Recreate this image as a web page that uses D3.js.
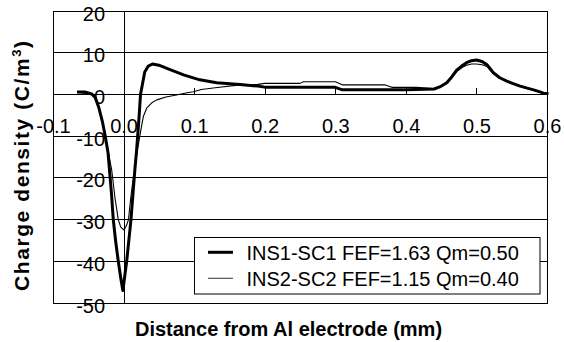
<!DOCTYPE html>
<html><head><meta charset="utf-8">
<script src="https://cdn.jsdelivr.net/npm/d3@7/dist/d3.min.js"></script>
<style>
html,body{margin:0;padding:0;background:#fff;}
svg{display:block;font-family:Arial,"Liberation Sans",sans-serif;}
</style></head>
<body>
<svg id="c" width="564" height="342"></svg>
<script>
// ---- data ----
const xTicks = [-0.1, 0.0, 0.1, 0.2, 0.3, 0.4, 0.5, 0.6];
const xTickLabels = ["-0.1", "0.0", "0.1", "0.2", "0.3", "0.4", "0.5", "0.6"];
const yTicks = [20, 10, 0, -10, -20, -30, -40, -50];
const yTickLabels = ["20", "10", "0", "-10", "-20", "-30", "-40", "-50"];
const seriesNames = ["INS1-SC1 FEF=1.63 Qm=0.50", "INS2-SC2 FEF=1.15 Qm=0.40"];

const ins1X = [-0.066,-0.055,-0.045,-0.04,-0.035,-0.03,-0.026,-0.022,-0.02,-0.017,-0.0146,-0.011,-0.0075,-0.004,-0.001,
  0.0044,0.0105,0.016,0.0185,0.022,0.024,0.027,0.030,0.035,0.041,0.05,0.065,0.085,0.108,0.132,0.165,0.19,0.2,0.3,0.31,0.4,0.44,
  0.448,0.458,0.465,0.472,0.479,0.486,0.493,0.5,0.508,0.515,0.524,0.533,0.543,0.552,0.562,0.572,0.581,0.59,0.595,0.602];
const ins1Y = [0.6,0.6,0.1,-0.8,-3.2,-6.5,-10,-14,-18,-24,-30,-35.5,-40,-44,-47,
  -40,-30,-18,-13.3,-5.3,0,2.7,5.4,6.8,7.3,7.0,6.0,4.7,3.5,2.8,2.4,2.0,1.75,1.7,1.1,1.1,1.3,
  1.8,2.8,4.2,5.8,6.8,7.6,8.1,8.25,7.9,7.1,5.2,4.0,3.2,2.6,2.0,1.5,1.1,0.6,0.3,0.25];

const ins2X = [-0.066,-0.045,-0.04,-0.035,-0.03,-0.026,-0.022,-0.0169,-0.012,-0.0075,-0.004,0.0006,0.004,0.007,0.010,0.013,0.016,0.019,0.022,0.025,0.028,0.033,0.04,0.047,0.06,0.075,0.09,0.099,0.11,0.13,0.165,0.19,0.2,0.25,0.255,0.30,0.31,0.37,0.38,0.415,0.44,
  0.448,0.458,0.465,0.472,0.479,0.486,0.493,0.5,0.508,0.515,0.524,0.533,0.543,0.552,0.562,0.572,0.581,0.59,0.595,0.602];
const ins2Y = [0.5,0.1,-0.8,-3,-6.3,-9.5,-13.5,-18,-25,-30,-31.8,-32.5,-31.5,-30,-25,-21,-18,-14,-11,-8,-5.3,-3.2,-2,-1.3,-0.6,-0.15,0.4,0.65,1.2,1.6,2.3,2.4,2.65,2.65,3.05,3.05,2.3,2.3,1.7,1.7,1.4,
  1.8,2.7,4.0,5.5,6.4,7.0,7.3,7.3,7.1,6.7,5.0,4.0,3.1,2.5,1.9,1.4,1.0,0.6,0.35,0.25];

// ---- layout ----
const svg = d3.select("#c");
const L = 53, R = 547, T = 11, B = 303;
const x = d3.scaleLinear().domain([-0.1, 0.6]).range([L, R]);
const y = d3.scaleLinear().domain([-50, 20]).range([B, T]);
const font = 'Arial, "Liberation Sans", sans-serif';

// gridlines
svg.append("g").selectAll("line").data(yTicks).join("line")
  .attr("x1", L).attr("x2", R)
  .attr("y1", d => y(d)).attr("y2", d => y(d))
  .attr("stroke", "#000").attr("stroke-width", 1).attr("shape-rendering", "crispEdges");

// frame
svg.append("rect").attr("x", L).attr("y", T).attr("width", R - L).attr("height", B - T)
  .attr("fill", "none").attr("stroke", "#000").attr("stroke-width", 1).attr("shape-rendering", "crispEdges");

// x axis at y=0
const xAxis = d3.axisBottom(x).tickValues(xTicks)
  .tickFormat((d, i) => xTickLabels[i]).tickSizeInner(-6).tickSizeOuter(0);
const gx = svg.append("g").attr("transform", `translate(0,${y(0)})`).call(xAxis);
gx.select(".domain").attr("stroke", "#000").attr("shape-rendering", "crispEdges");
gx.selectAll(".tick line").attr("stroke", "#000").attr("shape-rendering", "crispEdges");
gx.selectAll(".tick text").attr("y", 38.5).attr("dy", 0)
  .attr("font-family", font).attr("font-size", 20).attr("fill", "#000");

// y axis at x=0
const yAxis = d3.axisLeft(y).tickValues(yTicks)
  .tickFormat((d, i) => yTickLabels[i]).tickSizeInner(0).tickSizeOuter(0);
const gy = svg.append("g").attr("transform", `translate(${x(0)},0)`).call(yAxis);
gy.select(".domain").attr("stroke", "#000").attr("shape-rendering", "crispEdges");
gy.selectAll(".tick text").attr("x", -18.5).attr("dy", 9).attr("text-anchor", "end")
  .attr("font-family", font).attr("font-size", 20).attr("fill", "#000");

// curves
const line = d3.line().x(d => x(d[0])).y(d => y(d[1]));
const s1 = ins1X.map((v, i) => [v, ins1Y[i]]);
const s2 = ins2X.map((v, i) => [v, ins2Y[i]]);
svg.append("path").datum(s2).attr("d", line).attr("fill", "none")
  .attr("stroke", "#000").attr("stroke-width", 1.1).attr("stroke-linejoin", "round");
svg.append("path").datum(s1).attr("d", line).attr("fill", "none")
  .attr("stroke", "#000").attr("stroke-width", 3).attr("stroke-linejoin", "round");

// legend
const lg = svg.append("g");
lg.append("rect").attr("x", 194.5).attr("y", 237.5).attr("width", 345.5).attr("height", 56.5)
  .attr("fill", "#fff").attr("stroke", "#000").attr("stroke-width", 1);
const rowsY = [252.3, 278.3];
const widths = [3, 1.1];
seriesNames.forEach((n, i) => {
  lg.append("line").attr("x1", 208).attr("x2", 233).attr("y1", rowsY[i]).attr("y2", rowsY[i])
    .attr("stroke", i === 0 ? "#000" : "#444").attr("stroke-width", widths[i]);
  lg.append("text").attr("x", 246.5).attr("y", rowsY[i] + 8)
    .attr("font-family", font).attr("font-size", 20).attr("fill", "#000").text(n);
});

// axis titles
svg.append("text").attr("x", 288.5).attr("y", 336).attr("text-anchor", "middle")
  .attr("font-family", font).attr("font-size", 20).attr("font-weight", "bold").text("Distance from Al electrode (mm)");
const yt = svg.append("text").attr("transform", "translate(29,166) rotate(-90)").attr("text-anchor", "middle")
  .attr("font-family", font).attr("font-size", 21).attr("font-weight", "bold")
  .attr("textLength", 250).attr("lengthAdjust", "spacing");
yt.append("tspan").text("Charge density (C/m");
yt.append("tspan").attr("dy", -8).attr("font-size", 13).text("3");
yt.append("tspan").attr("dy", 8).text(")");
</script>
</body></html>
